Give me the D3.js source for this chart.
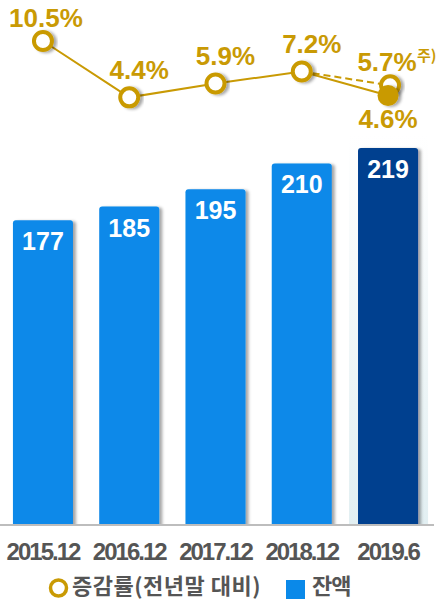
<!DOCTYPE html>
<html>
<head>
<meta charset="utf-8">
<script src="https://cdn.jsdelivr.net/npm/d3@7"></script>
<style>
  body { margin: 0; background: #fff; }
  svg { display: block; font-family: "Liberation Sans", Arial, sans-serif; }
</style>
</head>
<body>
<div id="chart"></div>
<script>
// data
var periods = ["2015.12", "2016.12", "2017.12", "2018.12", "2019.6"],
	balance = [177, 185, 195, 210, 219],
	growth = [10.5, 4.4, 5.9, 7.2, 4.6],
	growthNote = 5.7, // 2019.6 annualised (주)
	growthLabels = ["10.5%", "4.4%", "5.9%", "7.2%", "4.6%"],
	legendLabels = ["증감률(전년말 대비)", "잔액"];

var width = 440,
	height = 601,
	baseline = 525,
	gold = "#c99a04",
	blue = "#0a89e9",
	navy = "#003f8f";

var svg = d3.select("#chart")
	.append("svg")
	.attr("width", width)
	.attr("height", height);

var defs = svg.append("defs");
var shadow = defs.append("filter")
	.attr("id", "shadow")
	.attr("x", "-20%").attr("y", "-20%")
	.attr("width", "150%").attr("height", "150%");
shadow.append("feDropShadow")
	.attr("dx", 3).attr("dy", 1)
	.attr("stdDeviation", 1.5)
	.attr("flood-color", "#000")
	.attr("flood-opacity", 0.35);

var panelGrad = defs.append("linearGradient")
	.attr("id", "panel")
	.attr("x1", 0).attr("y1", 1).attr("x2", 0).attr("y2", 0);
panelGrad.append("stop").attr("offset", "0%").attr("stop-color", "#e2eff2");
panelGrad.append("stop").attr("offset", "100%").attr("stop-color", "#ffffff");

var x = d3.scaleBand()
	.domain(periods)
	.range([0, 431])
	.paddingInner(0.304)
	.paddingOuter(0.15);

var y = d3.scaleLinear()
	.domain([0, 219])
	.range([baseline, 148]);

var yg = d3.scaleLinear()
	.domain([0, 10.5])
	.range([138, 41]);

function cx(d) { return x(d) + x.bandwidth() / 2; }

// light panel behind latest bar
var last = periods[periods.length - 1];
svg.append("rect")
	.attr("x", x(last) - 9)
	.attr("width", x.bandwidth() + 19)
	.attr("y", 135)
	.attr("height", baseline - 135)
	.attr("fill", "url(#panel)");

// bars
svg.selectAll(".bar")
	.data(balance)
	.enter()
	.append("rect")
	.attr("class", "bar")
	.attr("x", function(d, i) { return x(periods[i]); })
	.attr("y", function(d) { return y(d); })
	.attr("width", x.bandwidth())
	.attr("height", function(d) { return baseline - y(d) + 4; })
	.attr("rx", 3)
	.attr("fill", function(d, i) { return i === balance.length - 1 ? navy : blue; })
	.attr("filter", "url(#shadow)");

// cover rounded bottom corners with the axis
svg.append("rect")
	.attr("x", 0)
	.attr("y", baseline - 1)
	.attr("width", 434)
	.attr("height", 12)
	.attr("fill", "#fff");
svg.append("line")
	.attr("x1", 0).attr("x2", 434)
	.attr("y1", baseline).attr("y2", baseline)
	.attr("stroke", "#bdbdbd")
	.attr("stroke-width", 2);

svg.selectAll(".bar-label")
	.data(balance)
	.enter()
	.append("text")
	.attr("class", "bar-label")
	.attr("x", function(d, i) { return cx(periods[i]); })
	.attr("y", function(d) { return y(d) + 30; })
	.attr("text-anchor", "middle")
	.attr("fill", "#fff")
	.attr("font-size", 25)
	.attr("font-weight", "bold")
	.text(function(d) { return d; });

// x axis labels
var xAxis = d3.axisBottom(x).tickSize(0).tickPadding(0);
var gx = svg.append("g")
	.attr("transform", "translate(0," + baseline + ")")
	.call(xAxis);
gx.select(".domain").remove();
gx.selectAll("text")
	.attr("y", 35)
	.attr("dy", 0)
	.attr("fill", "#555")
	.attr("font-size", 24)
	.attr("font-weight", "bold")
	.attr("letter-spacing", -2)
	.style("font-family", "'Liberation Sans', Arial, sans-serif");

// growth line
var pts = growth.map(function(v, i) { return [cx(periods[i]), yg(v)]; });
var notePt = [cx(last) + 2, yg(growthNote)];

svg.append("path")
	.attr("d", d3.line()(pts))
	.attr("fill", "none")
	.attr("stroke", gold)
	.attr("stroke-width", 2);

svg.append("line")
	.attr("x1", pts[3][0]).attr("y1", pts[3][1])
	.attr("x2", notePt[0]).attr("y2", notePt[1])
	.attr("stroke", gold)
	.attr("stroke-width", 2)
	.attr("stroke-dasharray", "7,4");

// hollow annualised point (behind)
svg.append("circle")
	.attr("cx", notePt[0]).attr("cy", notePt[1])
	.attr("r", 9)
	.attr("fill", "#fff")
	.attr("stroke", gold)
	.attr("stroke-width", 4)
	.attr("filter", "url(#shadow)");

svg.selectAll(".pt")
	.data(growth)
	.enter()
	.append("circle")
	.attr("class", "pt")
	.attr("cx", function(d, i) { return pts[i][0]; })
	.attr("cy", function(d, i) { return pts[i][1]; })
	.attr("r", function(d, i) { return i === growth.length - 1 ? 10.5 : 9; })
	.attr("fill", function(d, i) { return i === growth.length - 1 ? gold : "#fff"; })
	.attr("stroke", gold)
	.attr("stroke-width", function(d, i) { return i === growth.length - 1 ? 0 : 4; })
	.attr("filter", "url(#shadow)");

svg.selectAll(".g-label")
	.data(growth)
	.enter()
	.append("text")
	.attr("class", "g-label")
	.attr("x", function(d, i) { return pts[i][0] + (i === 0 ? 3 : i === growth.length - 1 ? 0 : 10); })
	.attr("y", function(d, i) { return i === growth.length - 1 ? pts[i][1] + 32 : pts[i][1] - (i === 0 ? 14 : 18); })
	.attr("text-anchor", "middle")
	.attr("fill", gold)
	.attr("font-size", 26)
	.attr("font-weight", "bold")
	.text(function(d, i) { return growthLabels[i]; });

var note = svg.append("text")
	.attr("x", notePt[0] - 3)
	.attr("y", notePt[1] - 14)
	.attr("text-anchor", "middle")
	.attr("fill", gold)
	.attr("font-size", 26)
	.attr("font-weight", "bold")
	.text(growthNote + "%");
svg.append("text")
	.attr("x", notePt[0] + 27)
	.attr("y", notePt[1] - 24)
	.attr("fill", gold)
	.attr("font-size", 15)
	.attr("font-weight", "bold")
	.style("font-family", "'Noto Sans CJK KR', sans-serif")
	.text("주)");

// legend
var lg = svg.append("g")
	.style("font-family", "'Noto Sans CJK KR', sans-serif");
lg.append("circle")
	.attr("cx", 58.5).attr("cy", 588)
	.attr("r", 8)
	.attr("fill", "#fff")
	.attr("stroke", gold)
	.attr("stroke-width", 3.5);
lg.append("text")
	.attr("x", 72).attr("y", 594)
	.attr("fill", "#555")
	.attr("font-size", 22)
	.attr("font-weight", "bold")
	.attr("letter-spacing", 0.5)
	.text(legendLabels[0]);
lg.append("rect")
	.attr("x", 286).attr("y", 580)
	.attr("width", 19).attr("height", 19)
	.attr("fill", blue);
lg.append("text")
	.attr("x", 312).attr("y", 594)
	.attr("fill", "#555")
	.attr("font-size", 22)
	.attr("font-weight", "bold")
	.attr("letter-spacing", -1)
	.text(legendLabels[1]);
</script>
</body>
</html>
